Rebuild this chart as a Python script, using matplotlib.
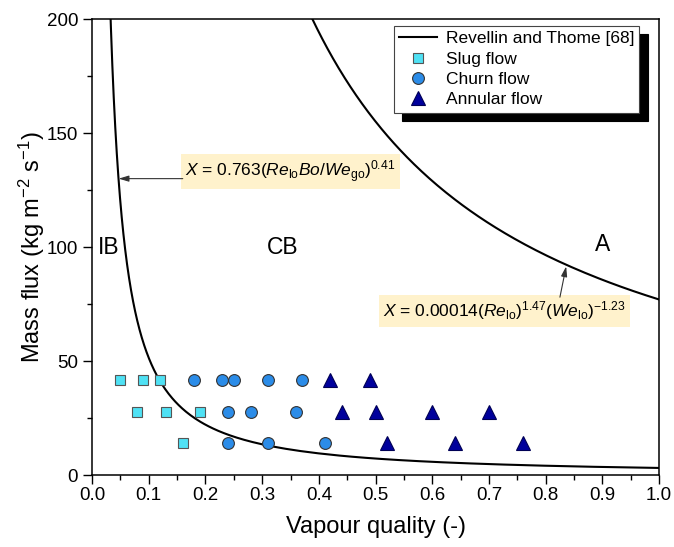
import numpy as np
import matplotlib.pyplot as plt

plt.rcParams['font.family'] = ['Liberation Sans', 'DejaVu Sans']
plt.rcParams['mathtext.fontset'] = 'custom'
plt.rcParams['mathtext.rm'] = 'Liberation Sans'
plt.rcParams['mathtext.it'] = 'Liberation Sans:italic'

# Observed flow patterns (vapour quality, mass flux)
slug_x = [0.05, 0.09, 0.12, 0.08, 0.13, 0.19, 0.16]
slug_G = [41.7, 41.7, 41.7, 27.8, 27.8, 27.8, 13.9]
churn_x = [0.18, 0.23, 0.25, 0.31, 0.37, 0.24, 0.28, 0.36, 0.24, 0.31, 0.41]
churn_G = [41.7, 41.7, 41.7, 41.7, 41.7, 27.8, 27.8, 27.8, 13.9, 13.9, 13.9]
annular_x = [0.42, 0.49, 0.44, 0.50, 0.60, 0.70, 0.52, 0.64, 0.76]
annular_G = [41.7, 41.7, 27.8, 27.8, 27.8, 27.8, 13.9, 13.9, 13.9]

# Revellin & Thome transitions at fixed heat flux / diameter reduce to power laws in G
# IB/CB: x = 0.763(Re_lo Bo/We_go)^0.41  ~ G^-0.82
# CB/A : x = 0.00014 Re_lo^1.47 We_lo^-1.23 ~ G^-0.99
c_ib, n_ib = 2.53, 0.82
c_ca, n_ca = 73.7, 0.99

G_ib = np.linspace((c_ib) ** (1 / n_ib), 200, 400)
x_ib = c_ib * G_ib ** (-n_ib)
G_ca = np.linspace(c_ca ** (1 / n_ca), 200, 200)
x_ca = c_ca * G_ca ** (-n_ca)

fig = plt.figure(figsize=(6.74, 5.47), dpi=100)
ax = fig.add_axes([0.1365, 0.1316, 0.8415, 0.8336])

ax.plot(x_ib, G_ib, color='black', lw=1.5, label='Revellin and Thome [68]')
ax.plot(x_ca, G_ca, color='black', lw=1.5)

ax.plot(slug_x, slug_G, 's', ms=7.5, mfc='#4fe1f4', mec='#555555', mew=0.8,
        ls='none', label='Slug flow')
ax.plot(churn_x, churn_G, 'o', ms=8.5, mfc='#2b8ce8', mec='#333333', mew=0.8,
        ls='none', label='Churn flow')
ax.plot(annular_x, annular_G, '^', ms=9.5, mfc='#00009c', mec='#000055', mew=0.8,
        ls='none', label='Annular flow')

# regime labels
ax.text(0.01, 100, 'IB', fontsize=16.5, va='center', ha='left')
ax.text(0.337, 100, 'CB', fontsize=16.5, va='center', ha='center')
ax.text(0.90, 101, 'A', fontsize=16.5, va='center', ha='center')

box = dict(boxstyle='square,pad=0.25', fc='#fff2cc', ec='none')
arrow = dict(arrowstyle='-|>,head_length=0.6,head_width=0.18', color='#333333',
             lw=0.8, shrinkA=0, shrinkB=0)

ax.text(0.164, 133, r'$X$ = 0.763($Re_{\mathrm{lo}}Bo/We_{\mathrm{go}}$)$^{0.41}$',
        fontsize=12.5, va='center', ha='left', bbox=box)
ax.annotate('', xy=(0.047, 130), xytext=(0.160, 130), arrowprops=arrow)

ax.text(0.727, 72, r'$X$ = 0.00014($Re_{\mathrm{lo}}$)$^{1.47}$($We_{\mathrm{lo}}$)$^{-1.23}$',
        fontsize=12.5, va='center', ha='center', bbox=box)
ax.annotate('', xy=(0.836, 91.5), xytext=(0.825, 78), arrowprops=arrow)

ax.set_xlim(0, 1)
ax.set_ylim(0, 200)
ax.set_xticks(np.arange(0, 1.01, 0.1))
ax.set_xticks(np.arange(0, 1.01, 0.05), minor=True)
ax.set_yticks(np.arange(0, 201, 50))
ax.set_yticks(np.arange(0, 201, 25), minor=True)
ax.xaxis.set_major_formatter(plt.FormatStrFormatter('%.1f'))
ax.tick_params(which='major', direction='out', length=6.5, width=1, labelsize=13.5)
ax.tick_params(axis='x', which='major', pad=2)
ax.tick_params(which='minor', direction='out', length=3.5, width=1)
for s in ax.spines.values():
    s.set_linewidth(1.1)

ax.set_xlabel('Vapour quality (-)', fontsize=17, labelpad=9)
ax.set_ylabel(r'Mass flux (kg m$^{-2}$ s$^{-1}$)', fontsize=17, labelpad=0)

leg = ax.legend(loc='upper right', bbox_to_anchor=(0.965, 0.985), fontsize=12.5,
                frameon=True, fancybox=False, edgecolor='#444444',
                shadow={'ox': 6, 'oy': -6, 'color': 'black', 'alpha': 1},
                borderpad=0.3, labelspacing=0.3, handlelength=2.2,
                handletextpad=0.5, borderaxespad=0)
leg.get_frame().set_linewidth(0.8)

fig.savefig('out.png', dpi=100)
